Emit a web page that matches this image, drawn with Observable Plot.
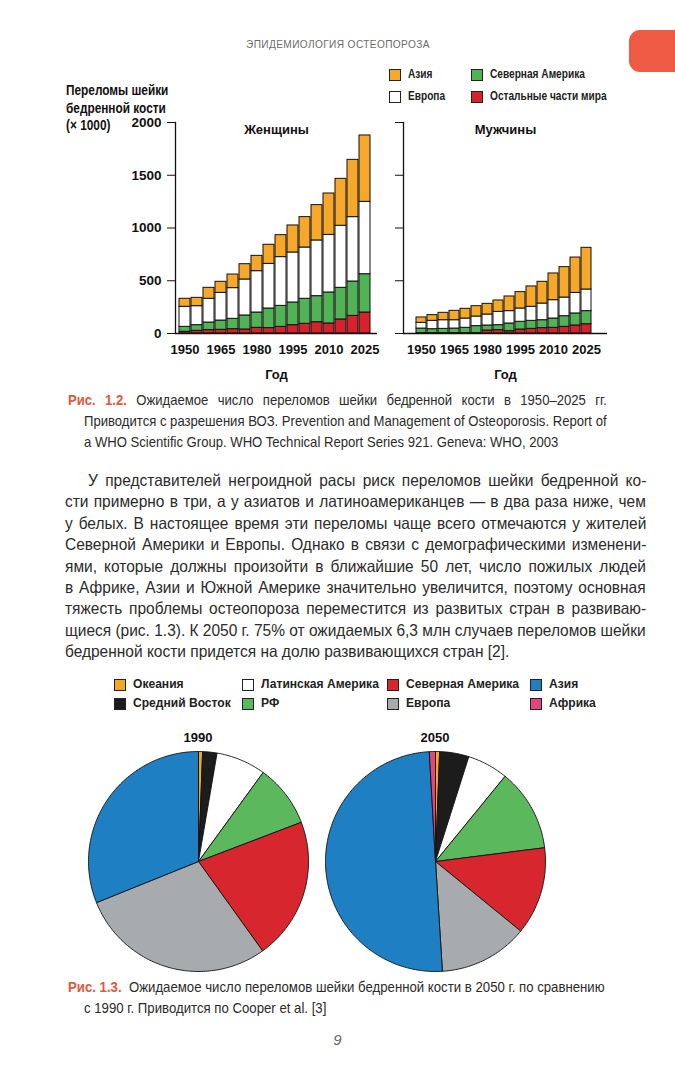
<!DOCTYPE html>
<html>
<head>
<meta charset="utf-8">
<script src="https://cdn.jsdelivr.net/npm/d3@7"></script>
<script src="https://cdn.jsdelivr.net/npm/@observablehq/plot@0.6"></script>
<style>
  html, body { margin: 0; padding: 0; background: #fff; }
  #page { position: relative; width: 675px; height: 1080px; overflow: hidden; background: #fff;
    font-family: "Liberation Sans", Arial, sans-serif; color: #2b2b2b; }
  .abs { position: absolute; }
  .t { display: inline-block; white-space: nowrap; transform-origin: 0 50%; }
  .hdr { left: 246px; top: 38px; font-size: 10.5px; letter-spacing: 0.4px; color: #6b6b6b; }
  .tab { left: 629px; top: 30px; width: 70px; height: 42px; border-radius: 11px; background: #ef5a45; }
  .ylab { left: 66px; top: 82px; font-weight: bold; font-size: 14.5px; line-height: 17.5px; color: #111; }
  .ylab div { height: 17.5px; }
  .leg { font-size: 13.5px; font-weight: bold; color: #222; white-space: nowrap; }
  .sw { position: absolute; left: 0; top: 3px; width: 10px; height: 10px; border: 1px solid #222; }
  .leg .t { position: absolute; top: 0; }
  .cap { font-size: 14.5px; color: #2b2b2b; line-height: 21px; }
  .cap div { height: 21px; white-space: nowrap; }
  .red { color: #e4573d; font-weight: bold; }
  .body { left: 65px; top: 470px; font-size: 16.5px; line-height: 21.4px; color: #2b2b2b; }
  .body div { height: 21.4px; white-space: nowrap; }
  .pt { font-weight: bold; font-size: 13px; color: #111; text-align: center; width: 60px; }
  .pnum { left: 0; width: 675px; top: 1031px; text-align: center; font-style: italic; font-size: 15px; color: #666; }
</style>
</head>
<body>
<div id="page">
  <div class="abs hdr"><span class="t" data-w="184">ЭПИДЕМИОЛОГИЯ ОСТЕОПОРОЗА</span></div>
  <div class="abs tab"></div>
  <div class="abs ylab" id="ylab">
    <div><span class="t">Переломы шейки</span></div>
    <div><span class="t">бедренной кости</span></div>
    <div><span class="t">(× 1000)</span></div>
  </div>
  <div id="barLegend"></div>
  <div id="women" class="abs" style="left:60px; top:100px;"></div>
  <div id="men" class="abs" style="left:380px; top:100px;"></div>

  <div class="abs cap" id="cap12" style="left:68px; top:390px;">
    <div><span class="t"><span class="red">Рис. 1.2.</span> Ожидаемое число переломов шейки бедренной кости в 1950–2025 гг.</span></div>
    <div style="padding-left:16px;"><span class="t">Приводится с разрешения ВОЗ. Prevention and Management of Osteoporosis. Report of</span></div>
    <div style="padding-left:16px;"><span class="t">a WHO Scientific Group. WHO Technical Report Series 921. Geneva: WHO, 2003</span></div>
  </div>

  <div class="abs body" id="bodytext">
    <div style="padding-left:23px;"><span class="t">У представителей негроидной расы риск переломов шейки бедренной ко-</span></div>
    <div><span class="t">сти примерно в три, а у азиатов и латиноамериканцев — в два раза ниже, чем</span></div>
    <div><span class="t">у белых. В настоящее время эти переломы чаще всего отмечаются у жителей</span></div>
    <div><span class="t">Северной Америки и Европы. Однако в связи с демографическими изменени-</span></div>
    <div><span class="t">ями, которые должны произойти в ближайшие 50 лет, число пожилых людей</span></div>
    <div><span class="t">в Африке, Азии и Южной Америке значительно увеличится, поэтому основная</span></div>
    <div><span class="t">тяжесть проблемы остеопороза переместится из развитых стран в развиваю-</span></div>
    <div><span class="t">щиеся (рис. 1.3). К 2050 г. 75% от ожидаемых 6,3 млн случаев переломов шейки</span></div>
    <div><span class="t">бедренной кости придется на долю развивающихся стран [2].</span></div>
  </div>

  <div id="pieLegend"></div>
  <div class="abs pt" style="left:168px; top:730px;">1990</div>
  <div class="abs pt" style="left:405px; top:730px;">2050</div>
  <div id="pie1990" class="abs" style="left:78px; top:741px;"></div>
  <div id="pie2050" class="abs" style="left:315px; top:741px;"></div>

  <div class="abs cap" id="cap13" style="left:68px; top:977px;">
    <div><span class="t"><span class="red">Рис. 1.3.</span>&nbsp; Ожидаемое число переломов шейки бедренной кости в 2050 г. по сравнению</span></div>
    <div style="padding-left:16px;"><span class="t">с 1990 г. Приводится по Cooper et al. [3]</span></div>
  </div>
  <div class="abs pnum">9</div>
</div>

<script>
// ---------- Data: hip fractures (x1000), Fig. 1.2 ----------
const years = [1950,1955,1960,1965,1970,1975,1980,1985,1990,1995,2000,2005,2010,2015,2020,2025];
const barRegions = ["Остальные части мира", "Северная Америка", "Европа", "Азия"];
const barColors  = ["#d6222b", "#52b256", "#ffffff", "#f6a82a"];

const womenRest   = [16,25,32,35,41,38,54,51,63,79,92,107,95,133,167,199];
const womenNAm    = [47,54,72,88,98,133,145,186,199,215,237,247,294,300,326,363];
const womenEurope = [190,180,225,262,291,341,392,423,462,474,486,528,546,588,610,686];
const womenAsia   = [76,79,104,105,129,145,145,181,208,256,288,335,392,445,543,629];

const menRest   = [4,4,4,4,4,4,28,32,22,38,44,51,54,63,76,88];
const menNAm    = [43,37,40,43,50,66,48,47,73,73,76,75,88,101,114,124];
const menEurope = [54,79,82,79,88,91,104,126,117,126,133,158,174,177,195,205];
const menAsia   = [51,54,70,89,92,98,101,108,139,155,193,206,253,288,335,395];

const yTicks = [0, 500, 1000, 1500, 2000];
const xTicks = [1950, 1965, 1980, 1995, 2010, 2025];

// ---------- Data: Fig. 1.3 shares (%) ----------
const pieRegions = ["Океания","Средний Восток","Латинская Америка","РФ","Северная Америка","Европа","Азия","Африка"];
const pieColors  = ["#f5a623","#1c1c1c","#ffffff","#5cb85c","#d7262e","#a8abae","#1e7fc3","#e0457b"];
const share1990  = [0.6, 2.1, 7.3, 9.2, 20.9, 28.8, 31.1, 0];
const share2050  = [0.6, 4.3, 6.0, 12.1, 12.9, 13.1, 50.1, 0.9];

// ---------- Legends ----------
function legend(el, items, cols, rows, refIndex, refWidth) {
  const host = document.getElementById(el);
  const spans = [];
  items.forEach((it, i) => {
    const d = document.createElement("div");
    d.className = "abs leg";
    d.style.left = cols[Math.floor(i / 2)] + "px";
    d.style.top = rows[i % 2] + "px";
    d.innerHTML = `<span class="sw" style="background:${it.c}"></span><span class="t" style="left:19px">${it.t}</span>`;
    host.appendChild(d);
    spans.push(d.querySelector(".t"));
  });
  const s = refWidth / spans[refIndex].offsetWidth;
  spans.forEach(sp => sp.style.transform = `scaleX(${s})`);
}
legend("barLegend", [
  {t: "Азия", c: barColors[3]}, {t: "Европа", c: barColors[2]},
  {t: "Северная Америка", c: barColors[1]}, {t: "Остальные части мира", c: barColors[0]}
], [389, 471], [66, 88], 3, 117);
legend("pieLegend", pieRegions.map((t, i) => ({t, c: pieColors[i]})), [114, 242, 387, 530], [676, 695], 2, 118);

// ---------- Text fitting: one condensing factor per block, justified lines by word spacing ----------
document.querySelectorAll(".t[data-w]").forEach(el => {
  el.style.transform = `scaleX(${+el.dataset.w / el.offsetWidth})`;
});
{
  const ys = [...document.querySelectorAll("#ylab .t")];
  const s = 102 / ys[0].offsetWidth;
  ys.forEach(e => e.style.transform = `scaleX(${s})`);
}
function fitBlock(id, targets) {
  const spans = [...document.querySelectorAll(`#${id} > div > .t`)];
  const nats = spans.map(sp => sp.offsetWidth);
  const s = d3.min(targets.map((t, i) => t == null ? Infinity : t / nats[i]));
  spans.forEach((sp, i) => {
    if (targets[i] != null) {
      const need = targets[i] / s;
      if (need > nats[i] + 0.5) {
        const spaces = (sp.textContent.match(/[ \u00a0]/g) || []).length || 1;
        sp.style.wordSpacing = ((need - nats[i]) / spaces) + "px";
      }
      sp.style.transform = `scaleX(${targets[i] / sp.offsetWidth})`;
    } else {
      sp.style.transform = `scaleX(${s})`;
    }
  });
}
fitBlock("bodytext", [558, 581, 581, 581, 581, 581, 581, 581, null]);
fitBlock("cap12", [539, 523, null]);
fitBlock("cap13", [537, null]);

// ---------- Bar charts ----------
function rows(rest, nam, eur, asia) {
  const series = [rest, nam, eur, asia];
  return years.flatMap((y, i) => series.map((s, k) => ({year: y, region: barRegions[k], value: s[i]})));
}
function barChart(data, opts) {
  return Plot.plot({
    width: opts.width, height: 290,
    marginLeft: opts.ml, marginRight: opts.mr, marginTop: 22, marginBottom: 57,
    style: {fontFamily: "'Liberation Sans', Arial, sans-serif", fontSize: "13px", fontWeight: "bold", color: "#111", background: "transparent", overflow: "visible"},
    x: {type: "band", domain: years, range: opts.xr, padding: 0.12, axis: null},
    y: {domain: [0, 2000], axis: null},
    color: {domain: barRegions, range: barColors},
    marks: [
      Plot.barY(data, {x: "year", y: "value", fill: "region", stroke: "#111", strokeWidth: 1,
        order: barRegions}),
      Plot.ruleY([0], {stroke: "#111", strokeWidth: 1.3}),
      Plot.frame({anchor: "left", stroke: "#111", strokeWidth: 1.3}),
      Plot.axisY({ticks: yTicks, tickSize: 8, tickPadding: 6, label: null,
        tickFormat: opts.labels ? (d => String(d)) : (() => ""), fontSize: 13.5}),
      Plot.axisX({ticks: xTicks, tickSize: 0, tickPadding: 11, label: null, fontSize: 13,
        tickFormat: d => String(d)}),
      Plot.text([opts.title], {frameAnchor: "top", dy: 2, text: d => d, fontSize: 13, fontWeight: "bold"}),
      Plot.text(["Год"], {frameAnchor: "bottom", dy: 45, text: d => d, fontSize: 13, fontWeight: "bold"})
    ]
  });
}
document.getElementById("women").appendChild(barChart(rows(womenRest, womenNAm, womenEurope, womenAsia),
  {width: 320, ml: 115, mr: 3, xr: [117, 311], labels: true, title: "Женщины"}));
document.getElementById("men").appendChild(barChart(rows(menRest, menNAm, menEurope, menAsia),
  {width: 240, ml: 23, mr: 13, xr: [27, 219], labels: false, title: "Мужчины"}));

// ---------- Pie charts (slices built from shares, drawn through Plot x/y scales) ----------
function slices(shares) {
  const total = d3.sum(shares);
  const ends = d3.cumsum(shares);
  const pts = [];
  shares.forEach((s, i) => {
    if (s <= 0) return;
    const a0 = (ends[i] - s) / total * 2 * Math.PI, a1 = ends[i] / total * 2 * Math.PI;
    const n = Math.max(2, Math.ceil((a1 - a0) / (Math.PI / 180)));
    pts.push({region: pieRegions[i], x: 0, y: 0});
    for (let k = 0; k <= n; k++) {
      const a = a0 + (a1 - a0) * k / n;
      pts.push({region: pieRegions[i], x: Math.sin(a), y: Math.cos(a)});
    }
    pts.push({region: pieRegions[i], x: 0, y: 0});
  });
  return pts;
}
function pie(shares) {
  return Plot.plot({
    width: 240, height: 240, margin: 10,
    style: {background: "transparent", overflow: "visible"},
    x: {domain: [-1, 1], axis: null},
    y: {domain: [-1, 1], axis: null},
    color: {domain: pieRegions, range: pieColors},
    marks: [
      Plot.line(slices(shares), {x: "x", y: "y", z: "region", fill: "region", stroke: "#111",
        strokeWidth: 0.9, strokeLinejoin: "round"})
    ]
  });
}
document.getElementById("pie1990").appendChild(pie(share1990));
document.getElementById("pie2050").appendChild(pie(share2050));
</script>
</body>
</html>
